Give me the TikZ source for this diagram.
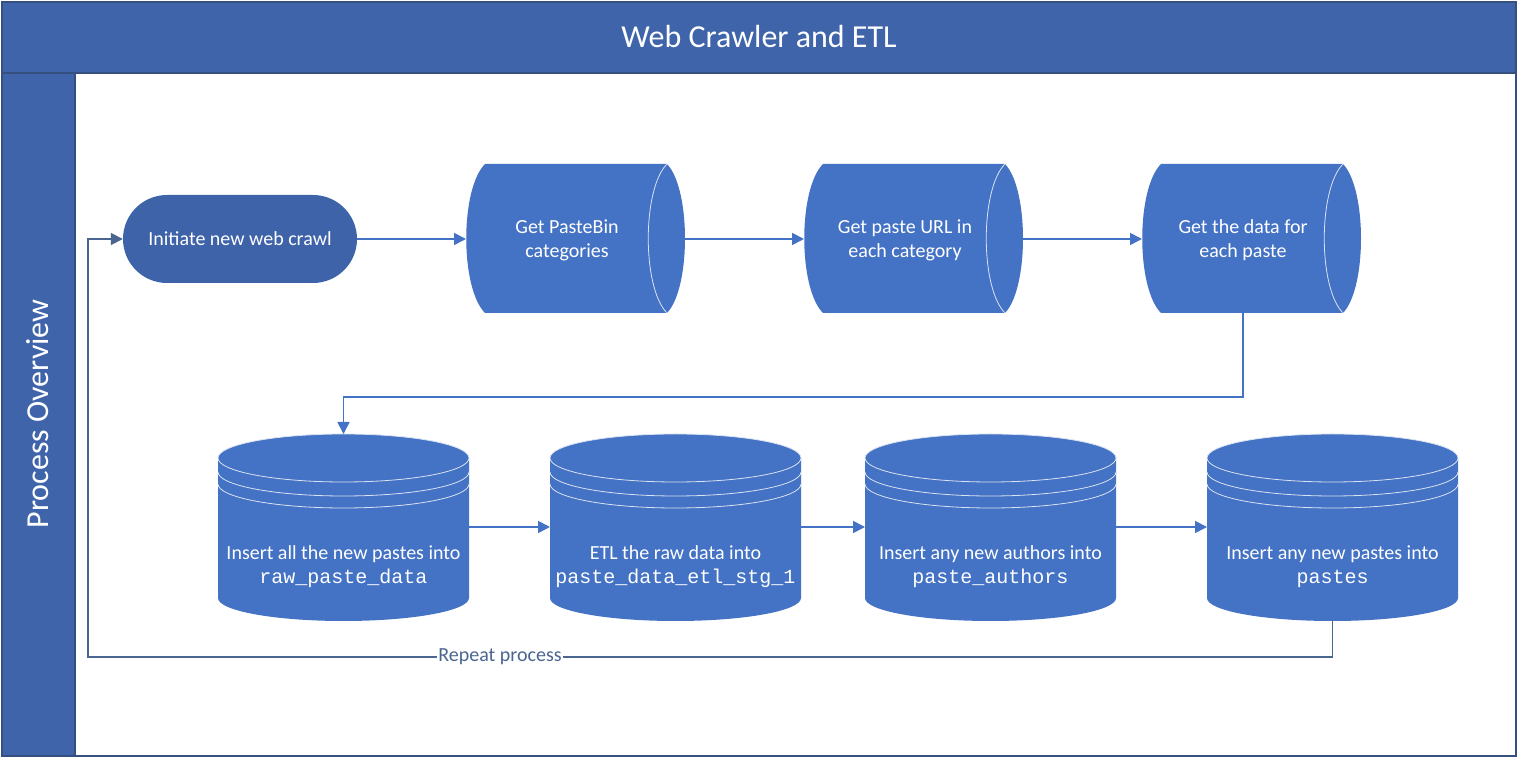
\documentclass[tikz,border=0pt]{standalone}
\usepackage{fontspec}
\setmainfont{Carlito}
\newfontfamily\monof{Liberation Mono}
\usetikzlibrary{arrows.meta}
\definecolor{band}{HTML}{3F64AA}
\definecolor{bandline}{HTML}{35507E}
\definecolor{shapefill}{HTML}{4472C4}
\definecolor{termfill}{HTML}{3E63A9}
\definecolor{flowcol}{HTML}{4472C4}
\definecolor{repcol}{HTML}{4A6590}
\newcommand\dastore[4]{%
  \fill[shapefill] ({#1+19},594) -- ({#1+201},594) .. controls ({#1+225},569) and ({#1+225},470) .. ({#1+201},445) -- ({#1+19},445) .. controls ({#1-6},470) and ({#1-6},569) .. cycle;
  \draw[innerline] ({#1+201},594) .. controls ({#1+176},569) and ({#1+176},470) .. ({#1+201},445);
  \node[txt] (#2) at ({#1+101},517.5) {#3\\#4};
  \coordinate (#2w) at (#1,519);
  \coordinate (#2e) at ({#1+219},519);
  \coordinate (#2s) at ({#1+101},445);
}
\newcommand\dbcyl[4]{%
  \fill[shapefill] (#1,300) -- (#1,160) arc[start angle=180,end angle=360,x radius=125.5,y radius=23] -- ({#1+251},300) arc[start angle=0,end angle=180,x radius=125.5,y radius=24] -- cycle;
  \draw[innerline] ({#1+125.5},300) ellipse[x radius=125.5,y radius=24];
  \draw[innerline] (#1,286) arc[start angle=180,end angle=360,x radius=125.5,y radius=24];
  \draw[innerline] (#1,274) arc[start angle=180,end angle=360,x radius=125.5,y radius=24];
  \node[txt] (#2) at ({#1+125.5},191) {#3\\{\monof #4}};
  \coordinate (#2w) at (#1,231);
  \coordinate (#2e) at ({#1+251},231);
  \coordinate (#2n) at ({#1+125.5},324);
  \coordinate (#2s) at ({#1+125.5},137);
}
\begin{document}
\begin{tikzpicture}[x=1pt,y=1pt,
  txt/.style={text=white, align=center, inner sep=0pt, font=\fontsize{20}{24}\selectfont},
  innerline/.style={draw=white!80!shapefill, line width=0.8pt},
  flow/.style={draw=flowcol, line width=1.7pt, -{Triangle[length=12pt,width=12pt]}},
  loopflow/.style={draw=repcol, line width=1.7pt, -{Triangle[length=12pt,width=12pt]}},
  bandtxt/.style={text=white, inner sep=0pt, font=\fontsize{32}{36}\selectfont}]
\useasboundingbox (0,0) rectangle (1519,758);
\fill[white] (0,0) rectangle (1519,758);
% pool and lane
\fill[band] (2,685) rectangle (1516,756);
\fill[band] (2,2) rectangle (75,685);
\draw[bandline, line width=1.2pt] (2,685) -- (1516,685);
\draw[bandline, line width=1.2pt] (75,2) -- (75,685);
\draw[bandline, line width=1.5pt] (2,2) rectangle (1516,756);
\node[bandtxt] (title) at (759,721) {Web Crawler and ETL};
\node[bandtxt, rotate=90] (lane) at (38,344) {Process Overview};
% terminal
\node[txt, fill=termfill, rounded corners=44pt, minimum width=234pt, minimum height=88pt] (init) at (240,519) {Initiate new web crawl};
% storage shapes
\dastore{466}{sa}{Get PasteBin}{categories}
\dastore{804}{sb}{Get paste URL in}{each category}
\dastore{1142}{sc}{Get the data for}{each paste}
% databases
\dbcyl{218}{ca}{Insert all the new pastes into}{raw\_paste\_data}
\dbcyl{550}{cb}{ETL the raw data into}{paste\_data\_etl\_stg\_1}
\dbcyl{865}{cc}{Insert any new authors into}{paste\_authors}
\dbcyl{1207}{cd}{Insert any new pastes into}{pastes}
\coordinate (loopc) at (88,101);
% connectors
\draw[flow] (init.east) -- (saw);
\draw[flow] (sae) -- (sbw);
\draw[flow] (sbe) -- (scw);
\draw[flow] (scs) -- ++(0,-84) -| (can);
\draw[flow] (cae) -- (cbw);
\draw[flow] (cbe) -- (ccw);
\draw[flow] (cce) -- (cdw);
\draw[loopflow] (cds) |- (loopc) |- (init.west);
\node[fill=white, text=repcol, inner sep=1pt, font=\fontsize{20}{24}\selectfont] (replabel) at (500,101) {Repeat process};
\end{tikzpicture}
\end{document}
